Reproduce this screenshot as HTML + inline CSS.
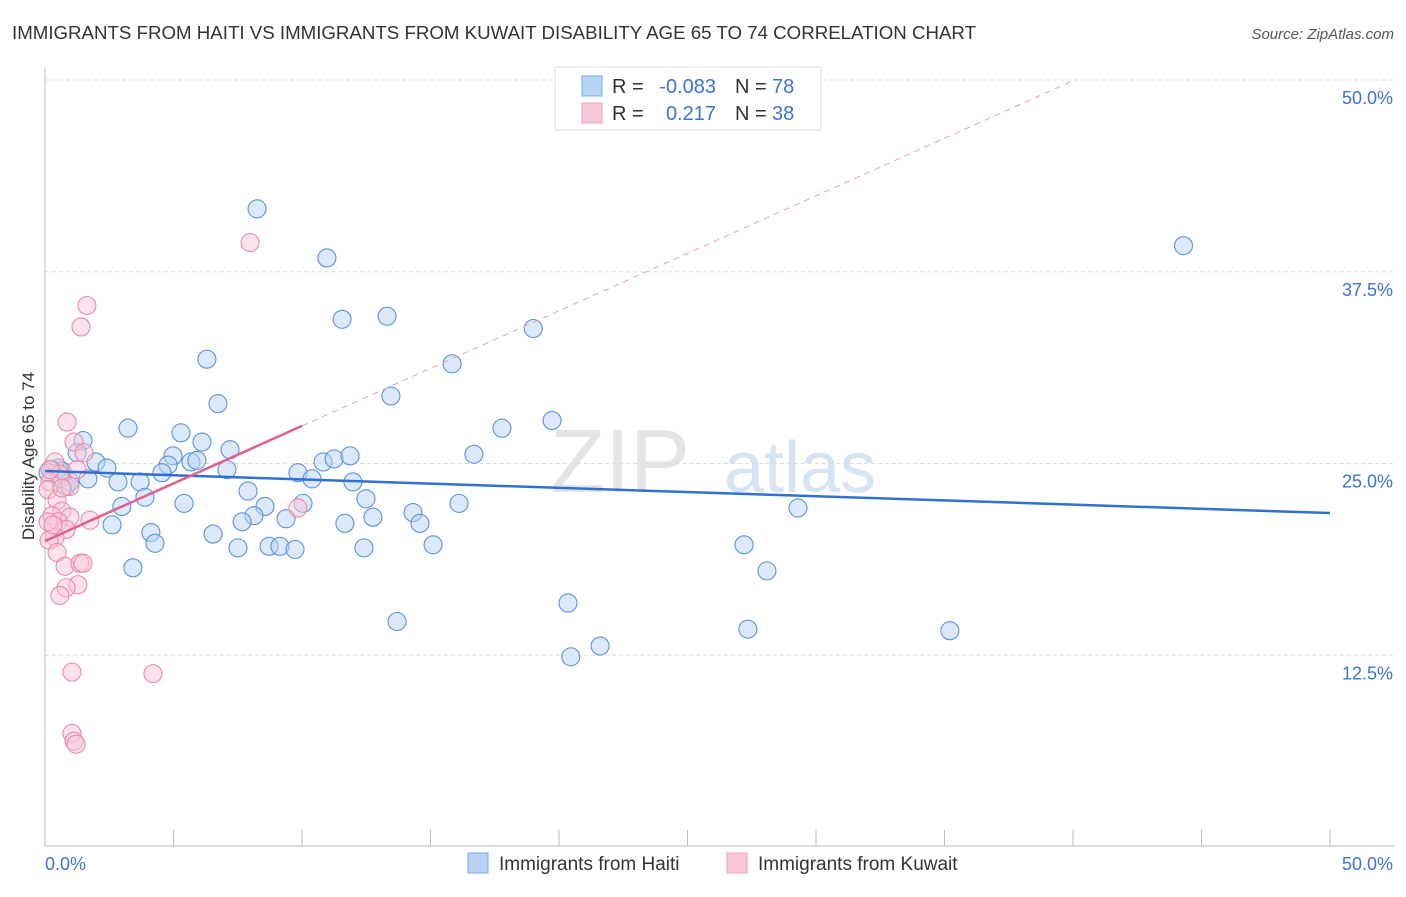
<!DOCTYPE html>
<html><head><meta charset="utf-8"><style>
body{margin:0;background:#fff;font-family:"Liberation Sans",sans-serif;}
svg text{font-family:"Liberation Sans",sans-serif;}
</style></head><body>
<svg id="chart" width="1406" height="892" xmlns="http://www.w3.org/2000/svg">
<text x="12" y="39" font-size="18" fill="#333" textLength="964" lengthAdjust="spacingAndGlyphs">IMMIGRANTS FROM HAITI VS IMMIGRANTS FROM KUWAIT DISABILITY AGE 65 TO 74 CORRELATION CHART</text>
<text x="1394" y="39" font-size="15" fill="#555" font-style="italic" text-anchor="end">Source: ZipAtlas.com</text>
<text x="34" y="456" font-size="17" fill="#333" text-anchor="middle" transform="rotate(-90 34 456)">Disability Age 65 to 74</text>
<text x="620" y="492" font-size="90" fill="#e4e4e4" font-family="Liberation Serif" text-anchor="middle">ZIP</text>
<text x="800" y="492" font-size="72" fill="#d5e3f3" text-anchor="middle">atlas</text>
<g id="grid"></g><g id="axes"></g><g id="pts"></g><g id="lines"></g>
<g>
<rect x="555" y="67" width="266" height="63" fill="#fff" stroke="#ddd"/>
<rect x="582" y="76" width="20" height="20" fill="#b8d3f5" stroke="#7aa8e8"/>
<text x="612" y="93" font-size="20" fill="#333">R =</text>
<text x="716" y="93" font-size="20" fill="#3b74d1" text-anchor="end">-0.083</text>
<text x="735" y="93" font-size="20" fill="#333">N =</text>
<text x="772" y="93" font-size="20" fill="#3b74d1">78</text>
<rect x="582" y="103" width="20" height="20" fill="#f9c8d6" stroke="#eea0b8"/>
<text x="612" y="120" font-size="20" fill="#333">R =</text>
<text x="716" y="120" font-size="20" fill="#3b74d1" text-anchor="end">0.217</text>
<text x="735" y="120" font-size="20" fill="#333">N =</text>
<text x="772" y="120" font-size="20" fill="#3b74d1">38</text>
</g>
<g>
<rect x="468" y="853" width="20" height="20" fill="#b8d3f5" stroke="#7aa8e8"/>
<text x="499" y="870" font-size="19" fill="#333">Immigrants from Haiti</text>
<rect x="727" y="853" width="20" height="20" fill="#f9c8d6" stroke="#eea0b8"/>
<text x="758" y="870" font-size="19" fill="#333">Immigrants from Kuwait</text>
</g>
</svg>
<script>
const haitiX=[8.25,10.97,44.3,11.56,13.31,19.0,6.3,15.84,13.46,6.73,3.23,5.29,17.78,19.73,1.48,6.11,7.2,1.25,4.98,1.98,2.41,4.79,5.68,5.91,4.55,0.51,0.27,1.67,2.84,3.7,0.82,7.08,9.84,10.82,11.25,11.87,16.69,10.39,11.98,7.9,3.89,2.99,5.41,8.56,10.04,12.49,16.11,29.3,8.13,7.67,9.38,12.76,14.32,14.59,2.61,11.67,4.12,6.54,4.28,7.51,8.72,9.14,9.73,12.41,15.1,27.2,3.42,28.09,20.35,13.7,27.35,35.21,21.6,20.46,0.58,0.97,0.12,0.66];
const haitiY=[41.6,38.4,39.2,34.4,34.6,33.8,31.8,31.5,29.4,28.9,27.3,27.0,27.3,27.8,26.5,26.4,25.9,25.7,25.5,25.1,24.7,24.9,25.1,25.2,24.4,24.7,24.6,24.0,23.8,23.8,23.5,24.6,24.4,25.1,25.3,25.5,25.6,24.0,23.8,23.2,22.8,22.2,22.4,22.2,22.4,22.7,22.4,22.1,21.6,21.2,21.4,21.5,21.8,21.1,21.0,21.1,20.5,20.4,19.8,19.5,19.6,19.6,19.4,19.5,19.7,19.7,18.2,18.0,15.9,14.7,14.2,14.1,13.1,12.4,24.0,23.8,24.4,24.5];
const kuwaitX=[1.63,1.4,7.98,0.86,1.13,1.52,0.39,1.25,0.58,0.19,0.97,0.12,0.47,0.66,0.97,1.75,0.27,0.51,0.12,0.82,0.39,0.16,0.47,0.78,1.36,1.48,1.28,0.82,0.58,9.84,1.05,4.2,1.05,1.13,1.21,0.19,0.66,0.31];
const kuwaitY=[35.3,33.9,39.4,27.7,26.4,25.7,25.1,24.6,24.3,23.8,23.5,23.3,22.6,21.9,21.5,21.3,21.6,21.2,21.2,20.7,20.2,20.0,19.2,18.3,18.5,18.5,17.1,16.9,16.4,22.1,11.4,11.3,7.4,6.9,6.7,24.6,23.4,21.0];
const yTicks=[12.5,25,37.5,50];
const xTickLabels=["0.0%","50.0%"];
const haitiFit=[24.51,21.77];
const kuwaitFit=[19.95,0.75];
const X0=45,X1=1330,Y0=847,Y1=80;
const sx=v=>X0+(v/50)*(X1-X0), sy=v=>Y0-(v/50)*(Y0-Y1);
const NS="http://www.w3.org/2000/svg";
function mk(t,a,p){const e=document.createElementNS(NS,t);for(const k in a)e.setAttribute(k,a[k]);p.appendChild(e);return e;}
const grid=document.getElementById('grid'),axes=document.getElementById('axes'),pts=document.getElementById('pts'),lines=document.getElementById('lines');
yTicks.forEach(v=>{
 const l=mk('line',{x1:X0,x2:1394,y1:sy(v),y2:sy(v),stroke:'#ddd','stroke-dasharray':'4,3'},grid);
 
 
 const t=mk('text',{x:1393,y:sy(v)+24,'font-size':18,fill:'#3b74d1','text-anchor':'end'},axes);t.textContent=v.toFixed(1)+'%';
 
 
});
const ya=mk('line',{x1:X0,x2:X0,y1:68,y2:846,stroke:'#bbb'},axes);


const xa=mk('line',{x1:X0,x2:1394,y1:846,y2:846,stroke:'#bbb'},axes);


for(let i=0;i<=10;i++){const tk=mk('line',{x1:sx(i*5),x2:sx(i*5),y1:830,y2:846,stroke:'#bbb'},axes);
 
 }
[[0,'start',45],[50,'end',1393]].forEach((d,i)=>{const t=mk('text',{x:d[2],y:870,'font-size':18,fill:'#3b74d1','text-anchor':d[1]},axes);t.textContent=xTickLabels[i];
 
 });
function dots(xs,ys,fill,stroke,name){xs.forEach((x,i)=>{const c=mk('circle',{cx:sx(x),cy:sy(ys[i]),r:9,fill:fill,'fill-opacity':0.5,stroke:stroke,'stroke-width':1.1},pts);
 
 });}
dots(haitiX,haitiY,'#b8d3f5','#5b93df','haiti-point');
dots(kuwaitX,kuwaitY,'#f9c8d6','#e98aa8','kuwait-point');
const bl=mk('line',{x1:sx(0),y1:sy(haitiFit[0]),x2:sx(50),y2:sy(haitiFit[1]),stroke:'#2f6fd6','stroke-width':2.5},lines);


const kf=x=>kuwaitFit[0]+kuwaitFit[1]*x;
const xEnd=(50-kuwaitFit[0])/kuwaitFit[1];
const pd=mk('line',{x1:sx(10),y1:sy(kf(10)),x2:sx(xEnd),y2:sy(50),stroke:'#e8a0b6','stroke-width':1,'stroke-dasharray':'6,5'},lines);


const pl=mk('line',{x1:sx(0),y1:sy(kf(0)),x2:sx(10),y2:sy(kf(10)),stroke:'#e0608a','stroke-width':2.5},lines);


</script>
</body></html>
